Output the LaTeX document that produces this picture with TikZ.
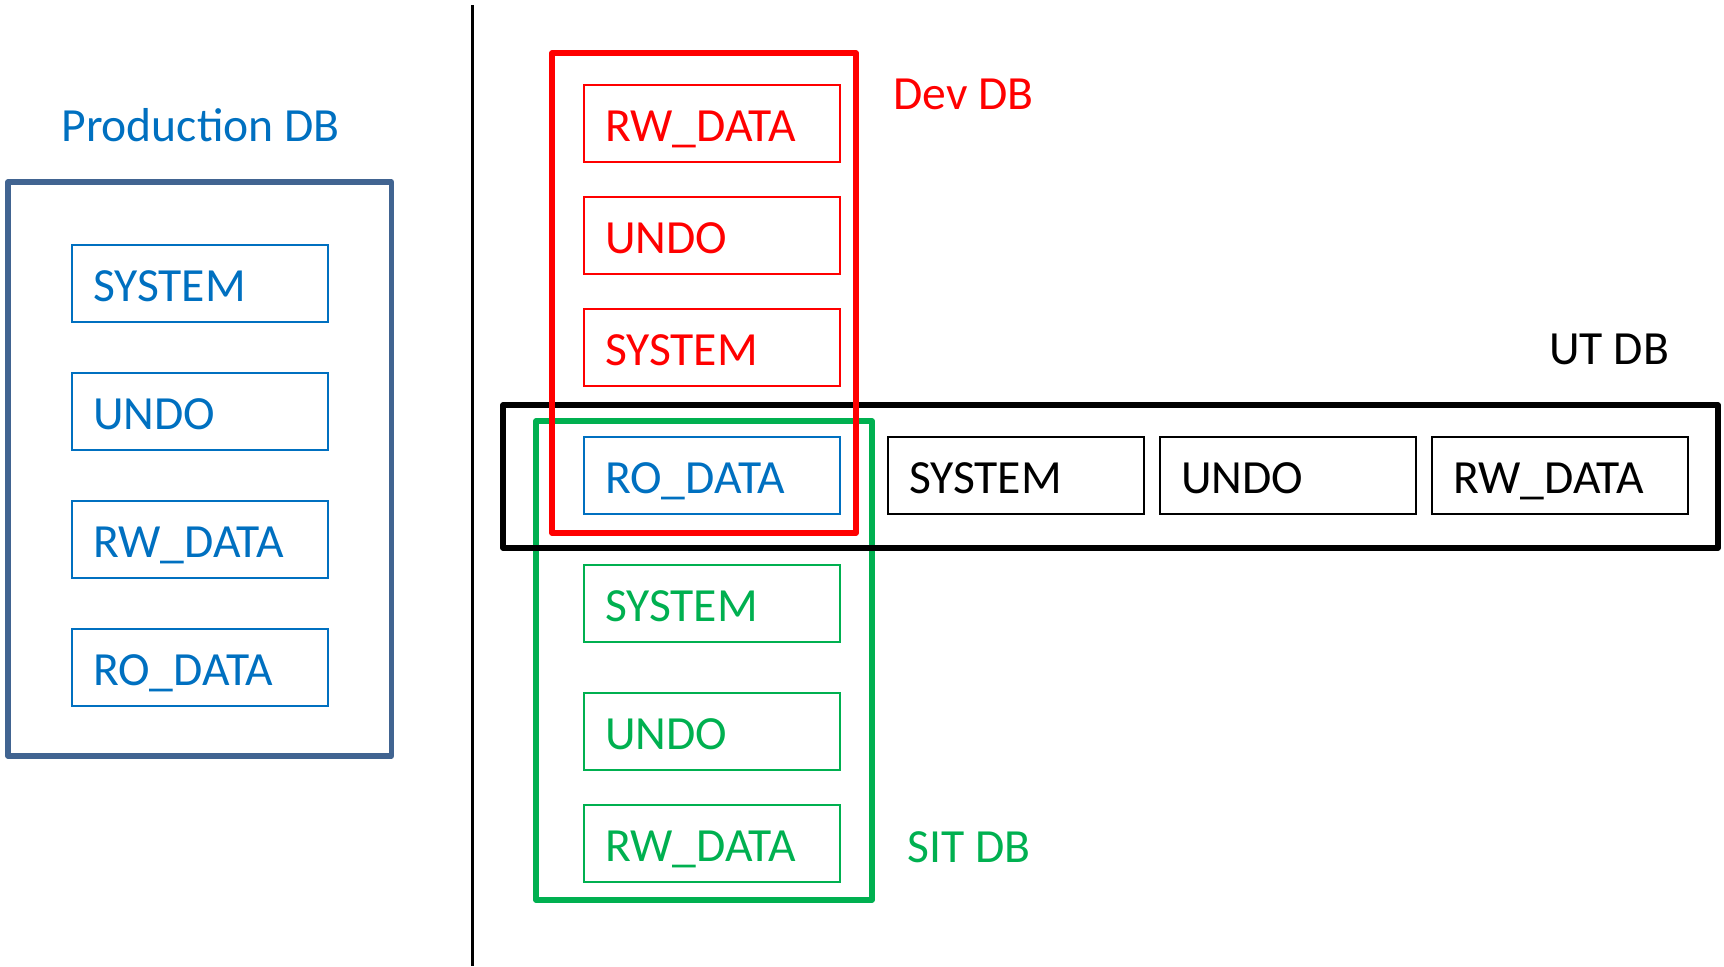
\documentclass[tikz,border=0pt]{standalone}
\usepackage{fontspec}
\setmainfont{Carlito}
\definecolor{prodframe}{RGB}{65,100,145}
\definecolor{prodblue}{RGB}{0,112,192}
\definecolor{devred}{RGB}{255,0,0}
\definecolor{sitgreen}{RGB}{0,176,80}
\tikzset{
  tbs/.style={draw, line width=1pt, minimum width=128pt, minimum height=38.5pt,
    inner xsep=10.5pt, inner ysep=0pt, text width=107pt, align=left,
    text height=17.5pt, text depth=0pt, font=\fontsize{23.8}{28}\selectfont},
  frame/.style={line width=2.6pt, line join=round},
  dblabel/.style={anchor=base west, inner sep=0pt, font=\fontsize{23.8}{28}\selectfont},
}
\begin{document}
\begin{tikzpicture}[x=0.5pt,y=-0.5pt]
\useasboundingbox (0,0) rectangle (1724,966);

% Production database
\node[dblabel, text=prodblue] (prodlabel) at (61,141) {Production DB};
\draw[frame, prodframe] (8,182) rectangle (391.5,756);
\node[tbs, prodblue] (p1) at (200,283.5) {SYSTEM};
\node[tbs, prodblue] (p2) at (200,411.5) {UNDO};
\node[tbs, prodblue] (p3) at (200,539.5) {RW\_DATA};
\node[tbs, prodblue] (p4) at (200,667.5) {RO\_DATA};

% divider
\coordinate (divtop) at (472.5,5);
\coordinate (divbot) at (472.5,966);
\draw[line width=1.2pt] (divtop) -- (divbot);

% environment frames
\draw[frame, sitgreen] (536,421) rectangle (872,900);
\draw[frame, black] (503,405) rectangle (1718,548);
\draw[frame, devred] (552,53) rectangle (856,533);

% Dev DB
\node[dblabel, text=devred] (devlabel) at (893,109) {Dev DB};
\node[tbs, devred] (d1) at (712,123.5) {RW\_DATA};
\node[tbs, devred] (d2) at (712,235.5) {UNDO};
\node[tbs, devred] (d3) at (712,347.5) {SYSTEM};

% shared read-only tablespace
\node[tbs, prodblue] (ro) at (712,475.5) {RO\_DATA};

% UT DB
\node[dblabel, text=black] (utlabel) at (1549,364) {UT DB};
\node[tbs, black] (u1) at (1016,475.5) {SYSTEM};
\node[tbs, black] (u2) at (1288,475.5) {UNDO};
\node[tbs, black] (u3) at (1560,475.5) {RW\_DATA};

% SIT DB
\node[tbs, sitgreen] (s1) at (712,603.5) {SYSTEM};
\node[tbs, sitgreen] (s2) at (712,731.5) {UNDO};
\node[tbs, sitgreen] (s3) at (712,843.5) {RW\_DATA};
\node[dblabel, text=sitgreen] (sitlabel) at (907,862) {SIT DB};
\end{tikzpicture}
\end{document}
